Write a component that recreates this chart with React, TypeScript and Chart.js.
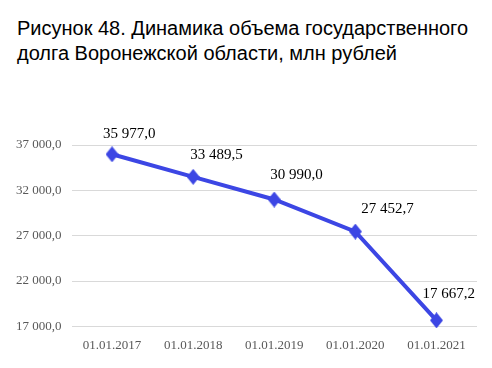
import React, { useEffect, useRef } from "react";
import { Chart, registerables } from "chart.js";

Chart.register(...registerables);

const TITLE_LINES = [
  "Рисунок 48. Динамика объема государственного",
  "долга Воронежской области, млн рублей",
];
const CATEGORIES = ["01.01.2017", "01.01.2018", "01.01.2019", "01.01.2020", "01.01.2021"];
const DEBT_VALUES = [35977.0, 33489.5, 30990.0, 27452.7, 17667.2];
const Y_MIN = 17000;
const Y_MAX = 37000;
const Y_STEP = 5000;

function fmt(v: number): string {
  const [intPart, dec] = v.toFixed(1).split(".");
  const withSpaces = intPart.replace(/\B(?=(\d{3})+(?!\d))/g, " ");
  return withSpaces + "," + dec;
}

const LABEL_DX = [-9, -3, -4, 6, -14];
const LABEL_DY = [-20, -22, -24, -23, -26];

const dataLabelPlugin = {
  id: "dataLabels",
  afterDatasetsDraw(chart: any) {
    const ctx = chart.ctx;
    const meta = chart.getDatasetMeta(0);
    ctx.save();
    ctx.font = "15px 'Liberation Serif', 'Times New Roman', serif";
    ctx.fillStyle = "#000000";
    ctx.textAlign = "left";
    ctx.textBaseline = "middle";
    meta.data.forEach((pt: any, i: number) => {
      ctx.fillText(fmt(DEBT_VALUES[i]), pt.x + LABEL_DX[i], pt.y + LABEL_DY[i]);
    });
    ctx.restore();
  },
};

function makeDiamond(color: string): HTMLCanvasElement {
  const w = 13;
  const h = 16;
  const c = document.createElement("canvas");
  c.width = w;
  c.height = h;
  const g = c.getContext("2d")!;
  g.fillStyle = color;
  g.beginPath();
  g.moveTo(w / 2, 0);
  g.lineTo(w, h / 2);
  g.lineTo(w / 2, h);
  g.lineTo(0, h / 2);
  g.closePath();
  g.fill();
  return c;
}

export default function App() {
  const ref = useRef<HTMLCanvasElement | null>(null);
  useEffect(() => {
    if (!ref.current) return;
    const blue = "#3c46e4";
    const diamond = makeDiamond(blue);
    const chart = new Chart(ref.current, {
      type: "line",
      data: {
        labels: CATEGORIES,
        datasets: [
          {
            data: DEBT_VALUES,
            borderColor: blue,
            backgroundColor: blue,
            borderWidth: 4,
            pointStyle: diamond as any,
            pointRadius: 6,
            pointBackgroundColor: blue,
            pointBorderColor: blue,
            tension: 0,
            clip: false as any,
          },
        ],
      },
      options: {
        animation: false,
        responsive: false,
        maintainAspectRatio: false,
        layout: { padding: { top: 145, left: 6, right: 15, bottom: 4 } },
        plugins: {
          legend: { display: false },
          title: { display: false },
          tooltip: { enabled: false },
        },
        scales: {
          x: {
            offset: true,
            grid: { display: false, drawTicks: false },
            border: { display: false },
            ticks: {
              color: "#595959",
              padding: 11,
              font: { family: "'Liberation Serif', 'Times New Roman', serif", size: 13 },
            },
          },
          y: {
            min: Y_MIN,
            max: Y_MAX,
            grid: { color: "#d9d9d9", lineWidth: 1, drawTicks: false },
            border: { display: false },
            ticks: {
              stepSize: Y_STEP,
              color: "#595959",
              padding: 10,
              font: { family: "'Liberation Serif', 'Times New Roman', serif", size: 13 },
              callback: (v: any) => fmt(Number(v)),
            },
          },
        },
      },
      plugins: [dataLabelPlugin],
    });
    return () => chart.destroy();
  }, []);

  return (
    <div style={{ position: "fixed", left: 0, top: 0, width: 492, height: 368, background: "#fff" }}>
      <div
        style={{
          position: "absolute",
          left: 17,
          top: 16,
          fontFamily: "'Liberation Sans', Arial, sans-serif",
          fontSize: 20,
          lineHeight: "25px",
          color: "#000",
          whiteSpace: "nowrap",
        }}
      >
        {TITLE_LINES.map((l, i) => (
          <div key={i}>{l}</div>
        ))}
      </div>
      <canvas ref={ref} width={492} height={368} style={{ position: "absolute", left: 0, top: 0 }} />
    </div>
  );
}
